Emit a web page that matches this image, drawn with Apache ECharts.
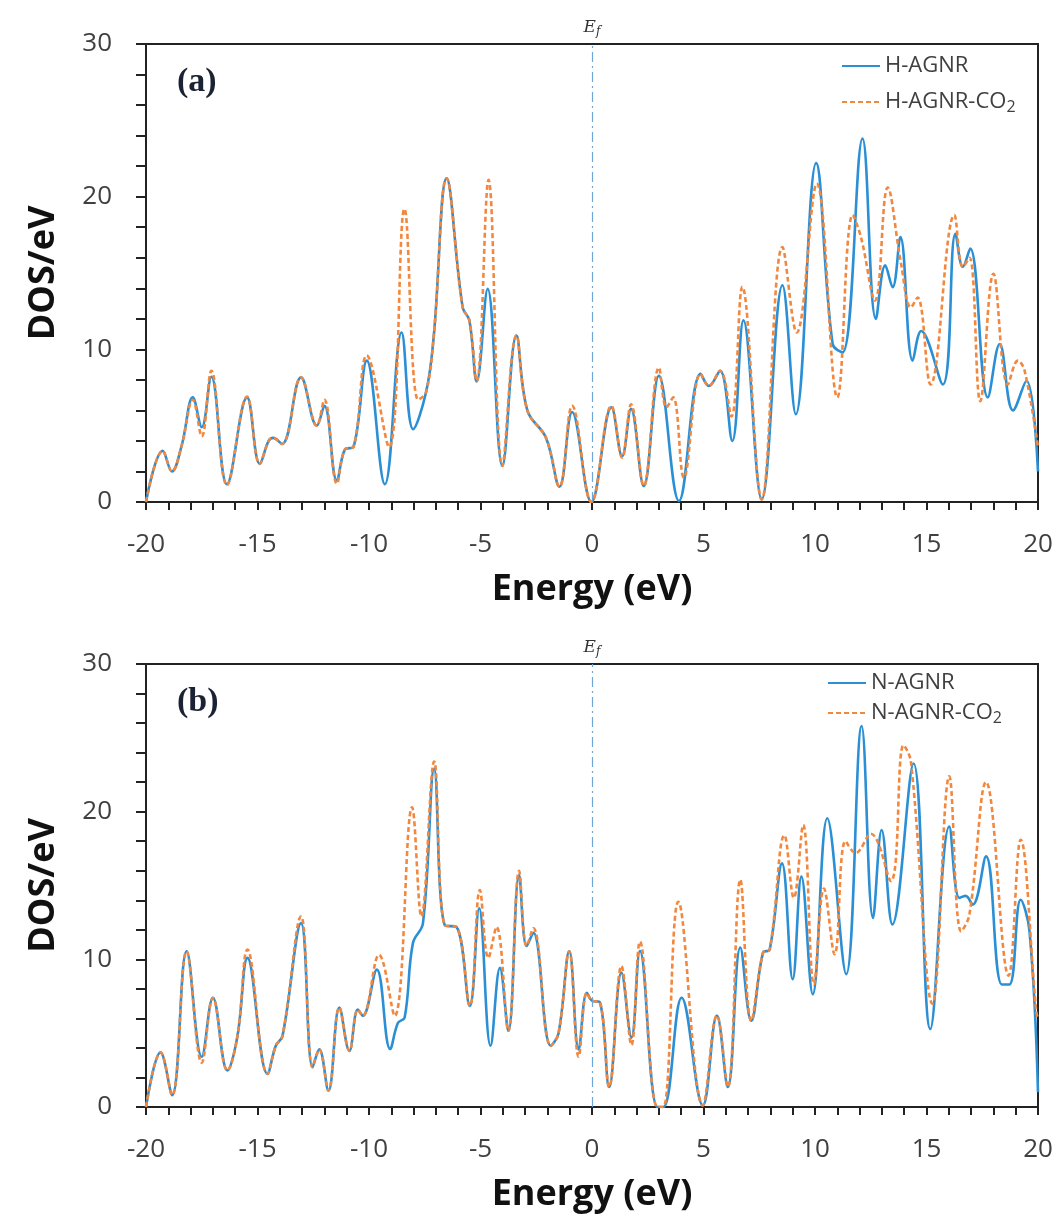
<!DOCTYPE html>
<html>
<head>
<meta charset="utf-8">
<script src="https://cdn.jsdelivr.net/npm/echarts@6/dist/echarts.min.js"></script>
<style>
html,body{margin:0;padding:0;background:#fff;}
#c{width:1057px;height:1220px;}
</style>
</head>
<body>
<div id="c"></div>
<script>
// Axis ticks
const xTicks = [-20, -15, -10, -5, 0, 5, 10, 15, 20];
const yTicks = [0, 10, 20, 30];
const seriesNamesA = ['H-AGNR', 'H-AGNR-CO2'];
const seriesNamesB = ['N-AGNR', 'N-AGNR-CO2'];

// Panel (a) H-AGNR
const aE_H = [-20, -19.25, -18.84, -18.4, -17.9, -17.5, -17.07, -16.37, -15.47, -14.9, -14.5, -14.3, -13.9, -13.05, -12.34, -12.0, -11.44, -11.07, -10.7, -10.1, -9.29, -8.54, -8.02, -7.44, -7.1, -6.52, -5.8, -5.5, -5.17, -4.68, -4.02, -3.39, -2.9, -2.06, -1.46, -0.89, -0.03, 0.87, 1.35, 1.75, 2.32, 3.0, 3.9, 4.87, 5.24, 5.74, 6.29, 6.79, 7.61, 8.54, 9.14, 10.05, 10.79, 11.24, 12.13, 12.73, 13.15, 13.48, 13.83, 14.38, 14.76, 15.73, 16.3, 16.63, 16.96, 17.75, 18.28, 18.88, 19.48, 20];
const aV_H = [0, 3.35, 2.0, 3.7, 6.85, 4.9, 8.2, 1.16, 6.85, 2.5, 4.0, 4.2, 3.8, 8.16, 5.0, 6.3, 1.4, 3.46, 3.6, 9.26, 1.16, 11.1, 4.77, 7.2, 10.8, 21.2, 12.75, 11.9, 7.9, 13.96, 2.36, 10.9, 6.0, 4.2, 1.0, 5.9, 0, 6.2, 3.0, 6.1, 1.05, 8.27, 0.07, 8.4, 7.6, 8.6, 4.0, 11.9, 0.17, 14.2, 5.75, 22.2, 10.35, 9.8, 23.8, 12.0, 15.5, 14.07, 17.35, 9.26, 11.2, 7.7, 17.57, 15.4, 16.6, 6.85, 10.35, 6.0, 7.94, 2.0];

// Panel (a) H-AGNR-CO2
const aE_HC = [-20, -19.25, -18.84, -18.4, -17.9, -17.5, -17.07, -16.37, -15.47, -14.9, -14.5, -14.3, -13.9, -13.05, -12.34, -12.0, -11.44, -11.07, -10.7, -10.1, -9.1, -8.41, -7.8, -7.44, -7.1, -6.52, -5.8, -5.5, -5.17, -4.64, -4.02, -3.39, -2.9, -2.06, -1.46, -0.89, -0.03, 0.87, 1.35, 1.75, 2.32, 3.0, 3.34, 3.64, 4.12, 4.87, 5.24, 5.74, 6.25, 6.74, 7.61, 8.54, 9.18, 10.08, 11.0, 11.69, 12.06, 12.69, 13.26, 13.86, 14.3, 14.6, 15.18, 16.25, 16.63, 16.93, 17.41, 18.0, 18.65, 19.1, 19.4, 20];
const aV_HC = [0, 3.35, 2.0, 3.7, 6.7, 4.3, 8.6, 1.1, 6.9, 2.5, 4.0, 4.2, 3.8, 8.16, 5.0, 6.7, 1.2, 3.46, 3.6, 9.6, 3.6, 19.2, 6.7, 7.2, 10.8, 21.2, 12.75, 11.9, 7.9, 21.1, 2.36, 10.9, 6.0, 4.2, 1.0, 6.3, 0, 6.3, 2.9, 6.4, 1.05, 8.8, 6.2, 6.85, 1.6, 8.4, 7.6, 8.6, 5.6, 14.1, 0.17, 16.7, 11.1, 20.85, 6.85, 18.8, 17.35, 13.2, 20.6, 15.6, 12.75, 13.4, 7.7, 18.8, 15.4, 16.0, 6.6, 14.95, 7.7, 9.26, 8.6, 3.6];

// Panel (b) N-AGNR
const bE_N = [-20, -19.35, -18.83, -18.18, -17.5, -17.0, -16.35, -15.9, -15.45, -14.55, -14.18, -13.88, -13.05, -12.53, -12.23, -11.82, -11.33, -10.88, -10.5, -10.28, -9.65, -9.05, -8.7, -8.4, -8.03, -7.58, -7.08, -6.6, -6.08, -5.48, -5.06, -4.55, -4.13, -3.75, -3.27, -2.93, -2.63, -1.85, -1.5, -1.02, -0.6, -0.23, 0.0, 0.35, 0.77, 1.32, 1.77, 2.15, 2.93, 3.2, 4.02, 4.97, 5.6, 6.09, 6.65, 7.14, 7.67, 7.97, 8.52, 9.0, 9.39, 9.9, 10.55, 11.4, 12.09, 12.6, 12.99, 13.47, 14.42, 15.17, 16.02, 16.47, 16.75, 17.07, 17.67, 18.38, 18.72, 19.22, 19.62, 20];
const bV_N = [0, 3.7, 0.8, 10.55, 3.4, 7.4, 2.47, 4.8, 10.1, 2.24, 4.15, 4.8, 12.45, 2.7, 3.9, 1.1, 6.73, 3.8, 6.6, 6.17, 9.3, 3.93, 5.7, 6.06, 11.1, 12.45, 22.9, 12.3, 12.2, 6.84, 13.46, 4.15, 9.42, 5.16, 15.7, 10.9, 11.8, 4.15, 5.0, 10.55, 3.9, 7.74, 7.2, 7.1, 1.35, 9.1, 4.7, 10.56, 0, 0, 7.4, 0.1, 6.2, 1.35, 10.8, 5.84, 10.45, 10.67, 16.5, 8.65, 15.6, 7.64, 19.55, 9.0, 25.8, 12.8, 18.76, 12.36, 23.26, 5.28, 19.0, 14.16, 14.3, 13.7, 16.97, 8.3, 8.3, 14.04, 11.9, 1.0];

// Panel (b) N-AGNR-CO2
const bE_NC = [-20, -19.35, -18.83, -18.18, -17.5, -17.0, -16.35, -15.9, -15.45, -14.55, -14.18, -13.88, -13.05, -12.53, -12.23, -11.82, -11.33, -10.88, -10.5, -10.28, -9.55, -8.85, -8.07, -7.65, -7.08, -6.6, -6.08, -5.48, -5.03, -4.65, -4.28, -3.75, -3.27, -2.93, -2.63, -1.85, -1.5, -1.02, -0.6, -0.23, 0.0, 0.35, 0.77, 1.32, 1.77, 2.15, 2.93, 3.2, 3.87, 4.97, 5.6, 6.09, 6.65, 7.14, 7.67, 7.97, 8.63, 9.05, 9.47, 9.95, 10.4, 10.88, 11.37, 11.82, 12.5, 13.4, 13.97, 14.3, 15.27, 16.02, 16.55, 16.92, 17.67, 18.68, 19.22, 19.92, 20];
const bV_NC = [0, 3.7, 0.8, 10.55, 3.0, 7.4, 2.47, 4.8, 10.66, 2.24, 4.15, 4.8, 12.9, 2.7, 3.9, 1.1, 6.73, 3.8, 6.6, 6.17, 10.3, 6.17, 20.3, 12.9, 23.4, 12.3, 12.2, 6.84, 14.7, 10.1, 12.2, 5.16, 16.0, 10.9, 12.1, 4.15, 5.0, 10.55, 3.4, 7.74, 7.2, 7.1, 1.35, 9.55, 4.2, 11.2, 0, 0, 13.9, 0.1, 6.2, 1.35, 15.4, 5.84, 10.45, 10.67, 18.4, 14.16, 19.1, 8.3, 14.8, 10.34, 18.0, 17.2, 18.5, 15.3, 24.5, 23.4, 7.0, 22.4, 11.9, 13.0, 22.0, 8.9, 18.1, 6.5, 6.0];

const pairs = (E, V) => E.map((e, i) => [e, V[i]]);

const BLUE = '#2a8fd4';
const ORANGE = '#f2883f';
const TXT = '#404040';
const FONT = '"Open Sans", "DejaVu Sans", sans-serif';

function xAxisCfg(gi) {
  return {
    type: 'value', gridIndex: gi, min: xTicks[0], max: xTicks[xTicks.length - 1], interval: 5,
    name: 'Energy (eV)', nameLocation: 'middle', nameGap: 70,
    nameTextStyle: { fontFamily: FONT, fontWeight: 'bold', fontSize: 36, color: '#111' },
    axisLine: { onZero: false, lineStyle: { color: '#222', width: 2 } },
    axisTick: { show: true, length: 8, lineStyle: { color: '#222', width: 2 } },
    minorTick: { show: true, splitNumber: 5, length: 8, lineStyle: { color: '#222', width: 2 } },
    axisLabel: { fontFamily: FONT, fontSize: 26, color: TXT, margin: 30 },
    splitLine: { show: false }
  };
}
function yAxisCfg(gi) {
  return {
    type: 'value', gridIndex: gi, min: yTicks[0], max: yTicks[yTicks.length - 1], interval: 10,
    name: 'DOS/eV', nameLocation: 'middle', nameGap: 84,
    nameTextStyle: { fontFamily: FONT, fontWeight: 'bold', fontSize: 36, color: '#111' },
    axisLine: { onZero: false, lineStyle: { color: '#222', width: 2 } },
    axisTick: { show: true, length: 10, lineStyle: { color: '#222', width: 2 } },
    minorTick: { show: true, splitNumber: 5, length: 10, lineStyle: { color: '#222', width: 2 } },
    axisLabel: { fontFamily: FONT, fontSize: 26, color: TXT, margin: 34 },
    splitLine: { show: false }
  };
}
function efLine() {
  return {
    silent: true, symbol: 'none',
    lineStyle: { color: '#6fa6d8', width: 1.2, type: [10, 4, 2, 4] },
    label: {
      show: true, position: 'end', distance: 6,
      formatter: '{e|E}{f|f}',
      rich: {
        e: { fontFamily: '"DejaVu Serif", serif', fontStyle: 'italic', fontSize: 17, color: '#333' },
        f: { fontFamily: '"DejaVu Serif", serif', fontStyle: 'italic', fontSize: 12, color: '#333', padding: [8, 0, 0, 0] }
      }
    },
    data: [{ xAxis: 0 }]
  };
}
function lineSeries(name, gi, data, color, dashed, withEf) {
  const s = {
    name: name, type: 'line', xAxisIndex: gi, yAxisIndex: gi,
    data: data, smooth: 0.4, symbol: 'none', showSymbol: false,
    lineStyle: { color: color, width: 2.6, type: dashed ? [5, 3] : 'solid' },
    itemStyle: { color: color }, z: dashed ? 3 : 2
  };
  if (withEf) s.markLine = efLine();
  return s;
}
function legendCfg(names, left, top, gap) {
  return {
    data: names, orient: 'vertical', left: left, top: top, itemGap: gap,
    itemWidth: 38, itemHeight: 14, itemStyle: { opacity: 0 },
    textStyle: {
      fontFamily: FONT, fontSize: 22, color: TXT,
      rich: { s: { fontFamily: FONT, fontSize: 16, color: TXT, padding: [10, 0, 0, 0] } }
    },
    formatter: n => n.endsWith('CO2') ? n.slice(0, -1) + '{s|2}' : n
  };
}

const chart = echarts.init(document.getElementById('c'), null, { renderer: 'canvas' });
chart.setOption({
  backgroundColor: '#fff',
  animation: false,
  title: [
    { text: '(a)', left: 172, top: 60, textStyle: { fontFamily: '"Liberation Serif", serif', fontWeight: 'bold', fontSize: 34, color: '#1b2233' } },
    { text: '(b)', left: 172, top: 680, textStyle: { fontFamily: '"Liberation Serif", serif', fontWeight: 'bold', fontSize: 34, color: '#1b2233' } }
  ],
  legend: [
    legendCfg(seriesNamesA, 836, 50, 14),
    legendCfg(seriesNamesB, 822, 667, 8)
  ],
  grid: [
    { left: 146, top: 44, width: 892, height: 458, show: true, borderColor: '#222', borderWidth: 2, backgroundColor: 'transparent' },
    { left: 146, top: 664, width: 892, height: 443, show: true, borderColor: '#222', borderWidth: 2, backgroundColor: 'transparent' }
  ],
  xAxis: [xAxisCfg(0), xAxisCfg(1)],
  yAxis: [yAxisCfg(0), yAxisCfg(1)],
  series: [
    lineSeries(seriesNamesA[0], 0, pairs(aE_H, aV_H), BLUE, false, true),
    lineSeries(seriesNamesA[1], 0, pairs(aE_HC, aV_HC), ORANGE, true, false),
    lineSeries(seriesNamesB[0], 1, pairs(bE_N, bV_N), BLUE, false, true),
    lineSeries(seriesNamesB[1], 1, pairs(bE_NC, bV_NC), ORANGE, true, false)
  ]
});
</script>
</body>
</html>
